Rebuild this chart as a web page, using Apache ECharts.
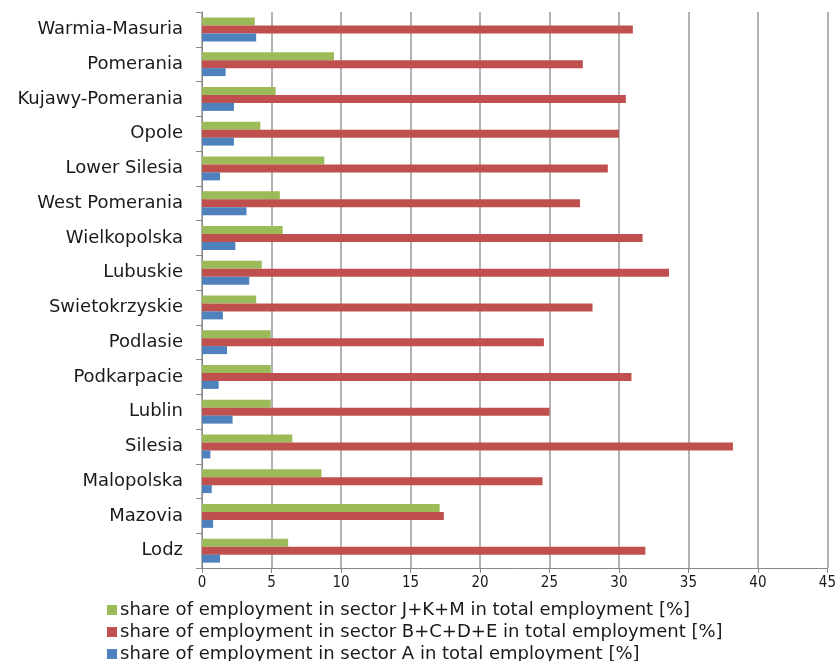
<!DOCTYPE html>
<html lang="en">
<head>
    <meta charset="utf-8">
    <title>Employment by sector</title>
    <script src="https://cdn.jsdelivr.net/npm/echarts@6/dist/echarts.min.js"></script>
    <style>
        html, body { margin: 0; padding: 0; background: #fff; }
        #main { width: 839px; height: 661px; }
    </style>
</head>
<body>
<div id="main"></div>
<script type="text/javascript">
    // regions, listed top to bottom as in the picture
    var regions = ['Warmia-Masuria', 'Pomerania', 'Kujawy-Pomerania', 'Opole', 'Lower Silesia',
        'West Pomerania', 'Wielkopolska', 'Lubuskie', 'Swietokrzyskie', 'Podlasie',
        'Podkarpacie', 'Lublin', 'Silesia', 'Malopolska', 'Mazovia', 'Lodz'];

    // share of employment in sector J+K+M [%]
    var sectorJKM = [3.8, 9.5, 5.3, 4.2, 8.8, 5.6, 5.8, 4.3, 3.9, 4.95, 4.95, 4.95, 6.5, 8.6, 17.1, 6.2];
    // share of employment in sector B+C+D+E [%]
    var sectorBCDE = [31.0, 27.4, 30.5, 30.0, 29.2, 27.2, 31.7, 33.6, 28.1, 24.6, 30.9, 25.0, 38.2, 24.5, 17.4, 31.9];
    // share of employment in sector A [%]
    var sectorA = [3.9, 1.7, 2.3, 2.3, 1.3, 3.2, 2.4, 3.4, 1.5, 1.8, 1.2, 2.2, 0.6, 0.7, 0.8, 1.3];

    var xTicks = [0, 5, 10, 15, 20, 25, 30, 35, 40, 45];

    var names = [
        'share of employment in sector J+K+M in total employment [%]',
        'share of employment in sector B+C+D+E in total employment [%]',
        'share of employment in sector A in total employment [%]'
    ];

    var labelFont = '"DejaVu Sans", sans-serif';
    var narrowFont = '"DejaVu Sans Condensed", "Liberation Sans", sans-serif';

    var myChart = echarts.init(document.getElementById('main'));

    // one legend per row so they stack like the original
    var legends = names.map(function (n, i) {
        return {
            show: true,
            left: 102,
            top: 596 + i * 22,
            itemWidth: 10,
            itemHeight: 10,
            itemGap: 0,
            icon: 'rect',
            data: [n],
            textStyle: { fontSize: 18, color: '#1a1a1a', fontFamily: labelFont, padding: [0, 0, 0, -2] }
        };
    });

    var option = {
        animation: false,
        textStyle: { fontFamily: labelFont },
        grid: { left: 202, right: 8, top: 12, bottom: 93 },
        legend: legends,
        xAxis: {
            type: 'value',
            min: xTicks[0],
            max: xTicks[xTicks.length - 1],
            interval: 5,
            axisLine: { show: true, lineStyle: { color: '#888' } },
            axisTick: { show: true, length: 5, lineStyle: { color: '#888' } },
            axisLabel: { fontSize: 15, color: '#1a1a1a', margin: 8, fontFamily: narrowFont },
            splitLine: { show: true, lineStyle: { color: '#9a9a9a', width: 1.5 } }
        },
        yAxis: {
            type: 'category',
            inverse: true,
            data: regions,
            axisLine: { show: true, lineStyle: { color: '#888' } },
            axisTick: { show: true, length: 6, lineStyle: { color: '#888' } },
            axisLabel: { fontSize: 18, color: '#1a1a1a', margin: 19, fontFamily: labelFont }
        },
        series: [
            {
                name: names[0], type: 'bar', data: sectorJKM, barWidth: 8, barGap: '0%',
                itemStyle: { color: '#9bbb59' }
            },
            {
                name: names[1], type: 'bar', data: sectorBCDE, barWidth: 8, barGap: '0%',
                itemStyle: { color: '#c0504d' }
            },
            {
                name: names[2], type: 'bar', data: sectorA, barWidth: 8, barGap: '0%',
                itemStyle: { color: '#4f81bd' }
            }
        ]
    };

    myChart.setOption(option);
</script>
</body>
</html>
